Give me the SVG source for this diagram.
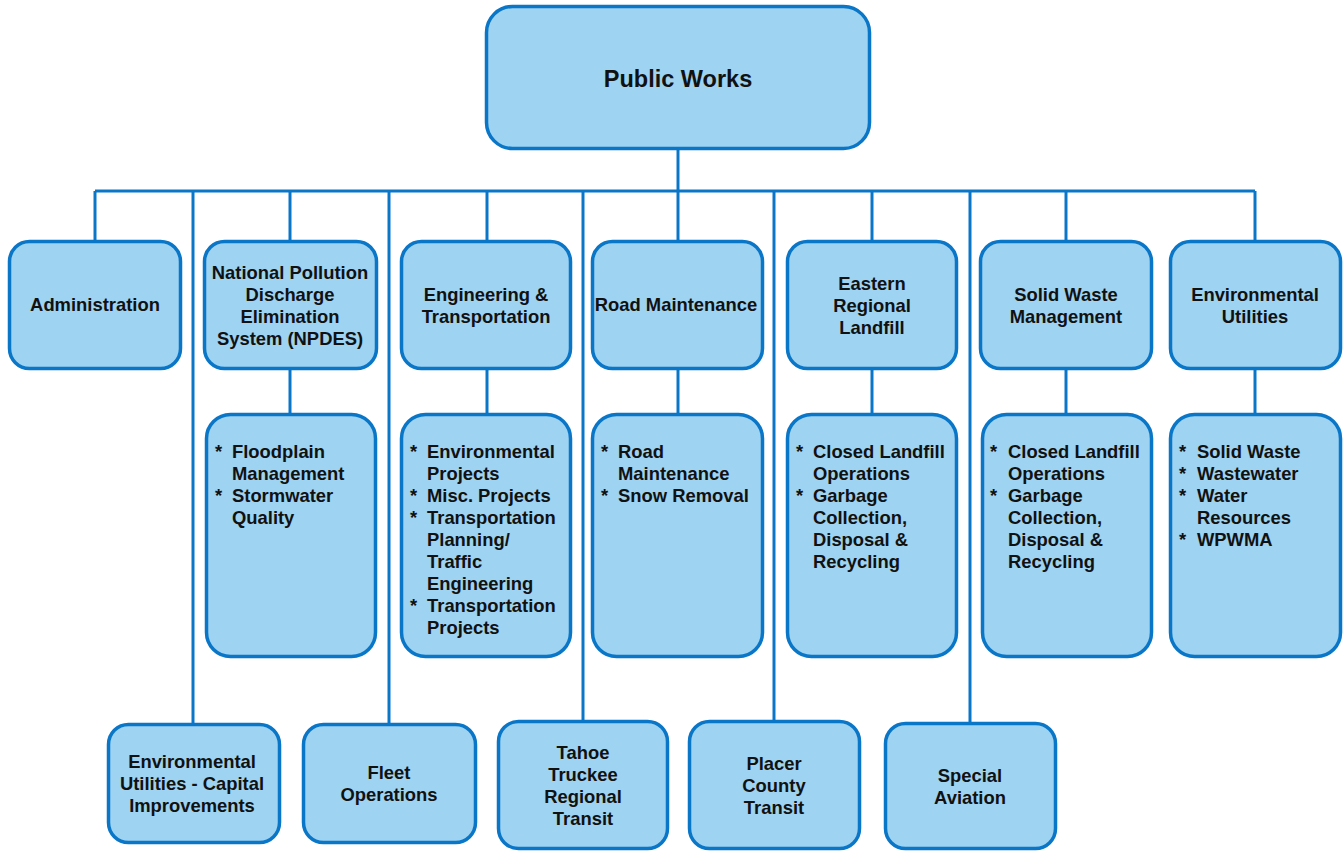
<svg xmlns="http://www.w3.org/2000/svg" width="1344" height="852" viewBox="0 0 1344 852">
  <style>
    .box { fill: #9ed3f1; stroke: #0a76c8; stroke-width: 3.5; }
    .wire { fill: none; stroke: #0a76c8; stroke-width: 3; }
    text { font-family: "Liberation Sans", Arial, sans-serif; font-weight: bold; font-size: 18.4px; fill: #111; }
    .c { text-anchor: middle; }
    .title { font-size: 23.5px; }
  </style>
  <rect width="1344" height="852" fill="#ffffff"/>

  <!-- connectors -->
  <g id="connectors" class="wire">
    <path d="M678 150 V191"/>
    <path d="M95 191 H1255"/>
    <path d="M95 191 V240 M290 191 V240 M487 191 V240 M678 191 V240 M872 191 V240 M1066 191 V240 M1255 191 V240"/>
    <path d="M290 370 V413 M487 370 V413 M678 370 V413 M872 370 V413 M1066 370 V413 M1255 370 V413"/>
    <path d="M193 191 V723 M389 191 V723 M583 191 V720 M774 191 V720 M970 191 V722"/>
  </g>

  <!-- head -->
  <g id="public-works">
    <rect class="box" x="486.5" y="6.5" width="383" height="142" rx="26"/>
    <text class="c title" x="678" y="87">Public Works</text>
  </g>

  <!-- first tier -->
  <g id="administration">
    <rect class="box" x="9.5" y="241.5" width="171" height="127" rx="20"/>
    <text class="c" x="95" y="311">Administration</text>
  </g>
  <g id="npdes">
    <rect class="box" x="204.5" y="241.5" width="172" height="127" rx="20"/>
    <text class="c" x="290" y="279">National Pollution</text>
    <text class="c" x="290" y="301">Discharge</text>
    <text class="c" x="290" y="323">Elimination</text>
    <text class="c" x="290" y="345">System (NPDES)</text>
  </g>
  <g id="engineering">
    <rect class="box" x="401.5" y="241.5" width="169" height="127" rx="20"/>
    <text class="c" x="486" y="301">Engineering &amp;</text>
    <text class="c" x="486" y="323">Transportation</text>
  </g>
  <g id="road-maintenance">
    <rect class="box" x="592.5" y="241.5" width="170" height="127" rx="20"/>
    <text class="c" x="676" y="311">Road Maintenance</text>
  </g>
  <g id="eastern-landfill">
    <rect class="box" x="787.5" y="241.5" width="169" height="127" rx="20"/>
    <text class="c" x="872" y="290">Eastern</text>
    <text class="c" x="872" y="312">Regional</text>
    <text class="c" x="872" y="334">Landfill</text>
  </g>
  <g id="solid-waste">
    <rect class="box" x="980.5" y="241.5" width="171" height="127" rx="20"/>
    <text class="c" x="1066" y="301">Solid Waste</text>
    <text class="c" x="1066" y="323">Management</text>
  </g>
  <g id="environmental-utilities">
    <rect class="box" x="1170.5" y="241.5" width="170" height="127" rx="20"/>
    <text class="c" x="1255" y="301">Environmental</text>
    <text class="c" x="1255" y="323">Utilities</text>
  </g>

  <!-- second tier: duty lists -->
  <g id="npdes-duties">
    <rect class="box" x="206.5" y="414.5" width="169" height="242" rx="24"/>
    <text x="215" y="458">*</text><text x="232" y="458">Floodplain</text>
    <text x="232" y="480">Management</text>
    <text x="215" y="502">*</text><text x="232" y="502">Stormwater</text>
    <text x="232" y="524">Quality</text>
  </g>
  <g id="engineering-duties">
    <rect class="box" x="401.5" y="414.5" width="169" height="242" rx="24"/>
    <text x="410" y="458">*</text><text x="427" y="458">Environmental</text>
    <text x="427" y="480">Projects</text>
    <text x="410" y="502">*</text><text x="427" y="502">Misc. Projects</text>
    <text x="410" y="524">*</text><text x="427" y="524">Transportation</text>
    <text x="427" y="546">Planning/</text>
    <text x="427" y="568">Traffic</text>
    <text x="427" y="590">Engineering</text>
    <text x="410" y="612">*</text><text x="427" y="612">Transportation</text>
    <text x="427" y="634">Projects</text>
  </g>
  <g id="road-duties">
    <rect class="box" x="592.5" y="414.5" width="170" height="242" rx="24"/>
    <text x="601" y="458">*</text><text x="618" y="458">Road</text>
    <text x="618" y="480">Maintenance</text>
    <text x="601" y="502">*</text><text x="618" y="502">Snow Removal</text>
  </g>
  <g id="landfill-duties">
    <rect class="box" x="787.5" y="414.5" width="169" height="242" rx="24"/>
    <text x="796" y="458">*</text><text x="813" y="458">Closed Landfill</text>
    <text x="813" y="480">Operations</text>
    <text x="796" y="502">*</text><text x="813" y="502">Garbage</text>
    <text x="813" y="524">Collection,</text>
    <text x="813" y="546">Disposal &amp;</text>
    <text x="813" y="568">Recycling</text>
  </g>
  <g id="solid-waste-duties">
    <rect class="box" x="982.5" y="414.5" width="169" height="242" rx="24"/>
    <text x="990" y="458">*</text><text x="1008" y="458">Closed Landfill</text>
    <text x="1008" y="480">Operations</text>
    <text x="990" y="502">*</text><text x="1008" y="502">Garbage</text>
    <text x="1008" y="524">Collection,</text>
    <text x="1008" y="546">Disposal &amp;</text>
    <text x="1008" y="568">Recycling</text>
  </g>
  <g id="utilities-duties">
    <rect class="box" x="1170.5" y="414.5" width="170" height="242" rx="24"/>
    <text x="1179" y="458">*</text><text x="1197" y="458">Solid Waste</text>
    <text x="1179" y="480">*</text><text x="1197" y="480">Wastewater</text>
    <text x="1179" y="502">*</text><text x="1197" y="502">Water</text>
    <text x="1197" y="524">Resources</text>
    <text x="1179" y="546">*</text><text x="1197" y="546">WPWMA</text>
  </g>

  <!-- bottom tier -->
  <g id="capital-improvements">
    <rect class="box" x="108.5" y="724.5" width="171" height="118" rx="20"/>
    <text class="c" x="192" y="768">Environmental</text>
    <text class="c" x="192" y="790">Utilities - Capital</text>
    <text class="c" x="192" y="812">Improvements</text>
  </g>
  <g id="fleet">
    <rect class="box" x="303.5" y="724.5" width="172" height="118" rx="20"/>
    <text class="c" x="389" y="779">Fleet</text>
    <text class="c" x="389" y="801">Operations</text>
  </g>
  <g id="tahoe-transit">
    <rect class="box" x="498.5" y="721.5" width="169" height="127" rx="20"/>
    <text class="c" x="583" y="759">Tahoe</text>
    <text class="c" x="583" y="781">Truckee</text>
    <text class="c" x="583" y="803">Regional</text>
    <text class="c" x="583" y="825">Transit</text>
  </g>
  <g id="placer-transit">
    <rect class="box" x="689.5" y="721.5" width="170" height="127" rx="20"/>
    <text class="c" x="774" y="770">Placer</text>
    <text class="c" x="774" y="792">County</text>
    <text class="c" x="774" y="814">Transit</text>
  </g>
  <g id="special-aviation">
    <rect class="box" x="885.5" y="723.5" width="170" height="125" rx="20"/>
    <text class="c" x="970" y="782">Special</text>
    <text class="c" x="970" y="804">Aviation</text>
  </g>
</svg>
